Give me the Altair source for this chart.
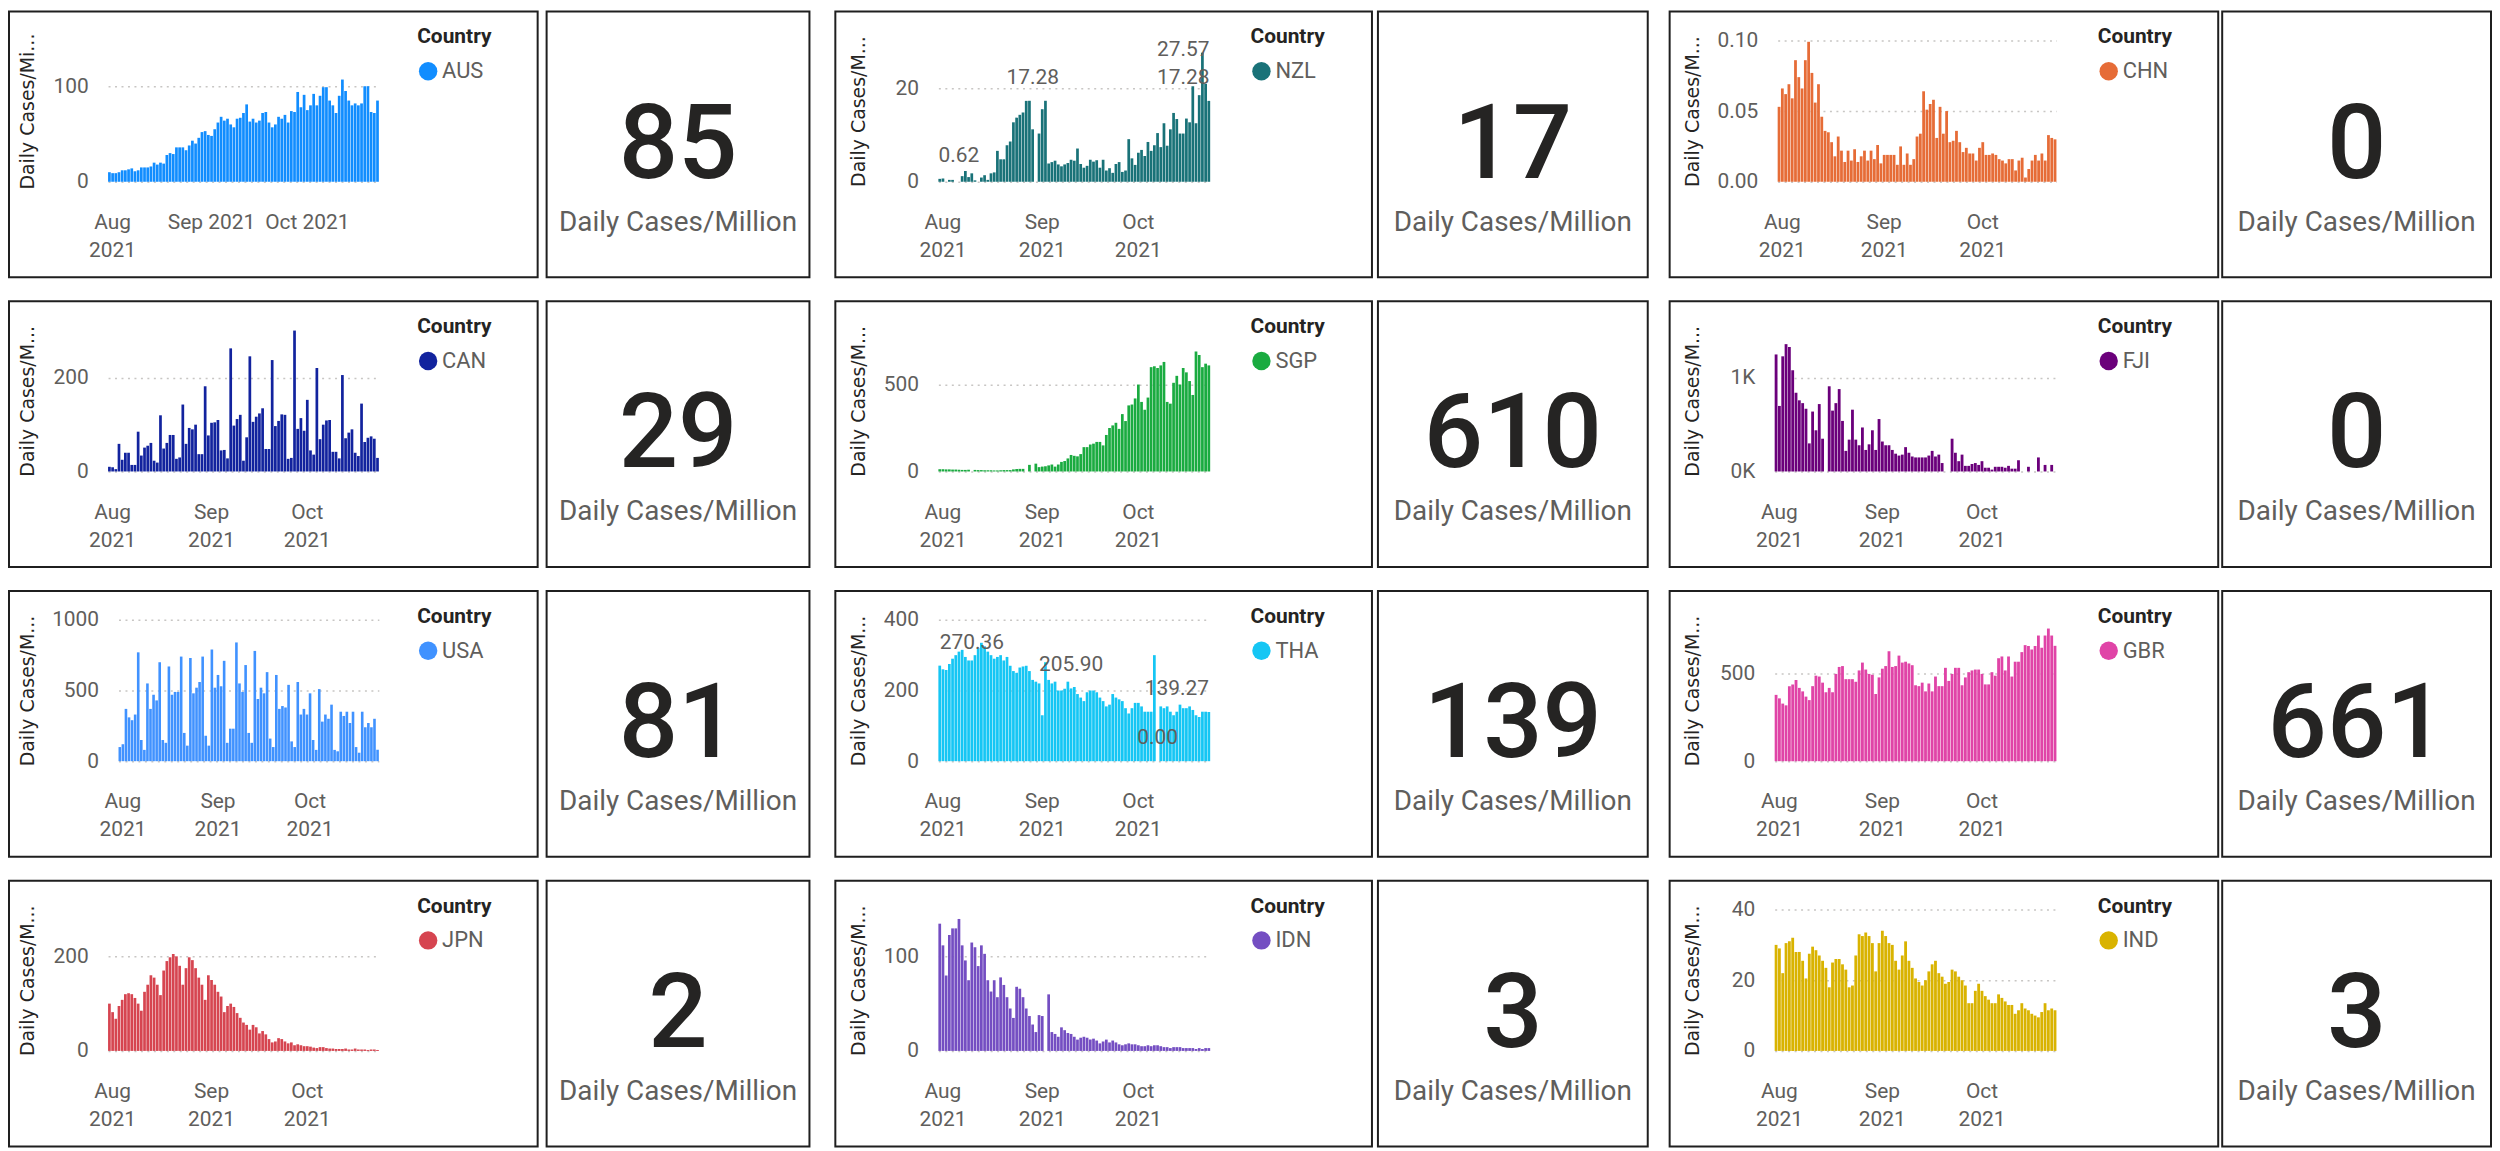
import altair as alt
import pandas as pd

N = None
dates = [d.strftime("%Y-%m-%d") for d in pd.date_range("2021-07-31", periods=85, freq="D")]
month_ticks = ["2021-08-01", "2021-09-01", "2021-10-01"]

countries = ["AUS", "NZL", "CHN", "CAN", "SGP", "FJI", "USA", "THA", "GBR", "JPN", "IDN", "IND"]
colors = ["#118DFF", "#197278", "#E66C37", "#12239E", "#1AAB40", "#6B007B",
          "#4092FF", "#15C6F4", "#E044A7", "#D64550", "#744EC2", "#D9B300"]
card_values = [85, 17, 0, 29, 610, 0, 81, 139, 661, 2, 3, 3]

aus = [10, 9, 9, 10, 12, 12, 13, 14, 11, 12,
       15, 15, 15, 16, 20, 18, 20, 19, 28, 30,
       29, 36, 36, 36, 33, 38, 43, 40, 46, 52,
       53, 49, 48, 55, 62, 68, 64, 66, 60, 57,
       66, 67, 72, 81, 63, 66, 62, 64, 72, 73,
       62, 57, 60, 68, 66, 70, 62, 74, 73, 94,
       78, 91, 75, 80, 92, 80, 90, 99, 99, 85,
       80, 72, 90, 107, 95, 85, 80, 82, 80, 82,
       100, 100, 73, 72, 85]
nzl = [0.62, 0.7, N, 0.4, 0.4, N, N, 1.2, 2.3, 1.0,
       1.8, 0.3, N, 0.9, 1.4, 0.4, 1.8, 2.0, 6.6, 4.8,
       4.8, 7.8, 8.6, 12.7, 13.7, 14.3, 14.8, 17.28, 17.3, 11.2,
       N, 10.3, 15.5, 17.3, 3.9, 4.2, 4.5, 3.7, 3.3, 3.7,
       4.0, 4.7, 4.5, 7.1, 3.8, 3.0, 3.4, 4.7, 4.3, 4.6,
       3.0, 4.7, 2.4, 2.9, 1.9, 3.8, 4.2, 2.1, 2.4, 9.1,
       5.0, 3.6, 6.2, 6.8, 5.5, 8.5, 6.6, 7.8, 10.4, 7.4,
       12.5, 7.7, 11.2, 14.7, 13.4, 10.3, 10.3, 13.5, 12.7, 20.4,
       12.5, 18.5, 27.57, 20.9, 17.28]
chn = [0.053, 0.066, 0.062, 0.069, 0.059, 0.086, 0.074, 0.066, 0.086, 0.099,
       0.077, 0.056, 0.069, 0.046, 0.036, 0.035, 0.028, 0.018, 0.032, 0.022,
       0.014, 0.022, 0.015, 0.023, 0.014, 0.018, 0.022, 0.015, 0.022, 0.016,
       0.026, 0.013, 0.019, 0.019, 0.019, 0.019, 0.012, 0.025, 0.012, 0.020,
       0.012, 0.016, 0.032, 0.034, 0.064, 0.051, 0.055, 0.058, 0.031, 0.053,
       0.034, 0.050, 0.028, 0.029, 0.036, 0.028, 0.021, 0.024, 0.020, 0.020,
       0.015, 0.024, 0.028, 0.019, 0.019, 0.020, 0.019, 0.016, 0.015, 0.013,
       0.016, 0.016, 0.008, 0.015, 0.017, 0.003, 0.009, 0.015, 0.019, 0.015,
       0.020, 0.015, 0.033, 0.031, 0.030]
can = [10, 9, 5, 59, 25, 40, 40, 14, 14, 85,
       34, 51, 55, 61, 23, 19, 120, 49, 61, 78,
       78, 27, 30, 143, 59, 93, 90, 100, 37, 37,
       182, 77, 104, 105, 110, 45, 46, 28, 263, 98,
       112, 121, 23, 73, 246, 106, 117, 124, 135, 48,
       48, 238, 97, 108, 122, 121, 27, 29, 301, 91,
       114, 87, 153, 45, 36, 221, 69, 100, 109, 110,
       42, 42, 28, 206, 71, 83, 90, 40, 33, 145,
       63, 72, 75, 70, 29]
sgp = [13, 13, 12, 12, 11, 11, 10, 9, 9, 10,
       N, 9, 8, 8, 7, 7, 7, 6, 6, 7,
       8, 8, 8, 12, 14, 15, 15, N, 38, N,
       45, 25, 28, 30, 35, 40, 28, 40, 55, 60,
       75, 95, 90, 87, 100, 140, 140, 155, 160, 170,
       170, 150, 210, 250, 265, 280, 245, 330, 290, 380,
       385, 420, 500, 400, 355, 425, 600, 605, 595, 610,
       630, 400, 390, 510, 550, 500, 595, 570, 520, 440,
       690, 670, 600, 620, 610]
fji = [1250, 700, 1230, 1360, 1330, 1080, 840, 760, 730, 670,
       300, 640, 440, 720, 350, N, 910, 650, 730, 880,
       540, 220, 340, 660, 340, 280, 470, 230, 290, 440,
       230, 560, 320, 280, 280, 230, 190, 170, 180, 260,
       200, 160, 150, 150, 150, 150, 170, 220, 160, 180,
       90, N, N, 350, 200, 110, 180, 60, 60, 80,
       90, 70, 110, 40, 40, 20, 50, 50, 50, 40,
       60, 30, 30, 120, N, N, 50, N, N, 150,
       N, 70, N, 70, N]
usa = [100, 120, 370, 310, 290, 330, 770, 150, 80, 550,
       370, 470, 430, 700, 150, 130, 670, 470, 490, 490,
       740, 200, 110, 730, 480, 520, 560, 740, 180, 110,
       790, 520, 610, 530, 710, 130, 230, 230, 840, 550,
       490, 680, 200, 130, 780, 440, 520, 480, 630, 160,
       100, 610, 370, 390, 380, 540, 140, 100, 560, 330,
       370, 330, 480, 150, 80, 510, 280, 330, 300, 400,
       80, 70, 350, 320, 350, 270, 350, 100, 60, 350,
       240, 270, 240, 300, 81]
tha = [270.36, 260, 258, 275, 290, 300, 310, 315, 295, 285,
       285, 300, 320, 335, 325, 310, 300, 290, 295, 300,
       285, 295, 270, 255, 250, 265, 268, 270, 255, 230,
       225, 220, 130, 280, 230, 220, 225, 200, 200, 205,
       225, 205.90, 210, 190, 180, 170, 195, 200, 200, 195,
       180, 170, 155, 160, 190, 180, 175, 170, 150, 135,
       150, 165, 165, 155, 140, 140, 140, 300, 0.0, 155,
       150, 155, 140, 130, 140, 160, 150, 150, 155, 145,
       130, 125, 140, 140, 139.27]
gbr = [380, 360, 330, 320, 430, 440, 465, 420, 400, 370,
       350, 430, 490, 485, 450, 395, 420, 395, 500, 540,
       545, 470, 470, 470, 455, 520, 565, 525, 500, 495,
       385, 480, 530, 545, 630, 540, 545, 605, 565, 570,
       560, 550, 435, 430, 450, 400, 445, 400, 485, 430,
       430, 535, 460, 500, 535, 535, 435, 480, 510, 520,
       525, 525, 500, 440, 440, 510, 490, 590, 600, 520,
       600, 485, 570, 570, 625, 665, 660, 640, 660, 720,
       650, 720, 760, 720, 661]
jpn = [100, 82, 68, 95, 108, 120, 122, 120, 112, 100,
       85, 125, 140, 160, 155, 140, 118, 170, 190, 198,
       205, 200, 180, 140, 175, 198, 192, 175, 155, 140,
       108, 160, 150, 140, 125, 115, 82, 95, 100, 93,
       80, 70, 60, 55, 45, 55, 50, 37, 42, 35,
       25, 18, 20, 27, 25, 20, 16, 18, 12, 14,
       12, 10, 10, 9, 7, 6, 8, 8, 6, 5,
       5, 4, 4, 4, 5, 3, 3, 5, 3, 3,
       3, 2, 3, 3, 2]
idn = [135, 112, 80, 123, 130, 130, 140, 112, 96, 75,
       115, 110, 90, 112, 103, 75, 63, 75, 57, 78,
       70, 57, 45, 35, 68, 66, 57, 45, 37, 28,
       20, 38, 37, N, 60, 20, 18, 15, 25, 22,
       19, 18, 15, 12, 14, 15, 14, 12, 13, 11,
       8, 10, 12, 9, 11, 9, 7, 6, 7, 8,
       7, 7, 6, 5, 5, 6, 5, 6, 6, 5,
       4, 4, 3, 4, 4, 4, 3, 3, 3, 3,
       2, 3, 2, 3, 3]
ind = [30, 29, 22, 30.5, 31, 32, 28, 28, 25.5, 20.5,
       27.5, 29.5, 28.5, 27, 25.5, 23.5, 18, 25, 26, 26,
       24.5, 23, 18, 18.5, 27, 33, 32.5, 33.5, 32.5, 30.5,
       22.5, 30.5, 34, 32.5, 30.5, 30, 25.5, 23, 27, 31,
       25.5, 23.5, 20.5, 19.5, 18.5, 20, 22.5, 24.5, 25.5, 22,
       21, 19, 19.5, 23, 22.5, 21, 20, 18.5, 13.5, 13.5,
       17, 19, 17, 15.5, 14.5, 13.5, 13.5, 16, 15, 14,
       13, 13, 10.5, 11.5, 13.5, 12, 11.5, 10.5, 10, 9.5,
       11, 13.5, 11.5, 12, 11.5]

series = [aus, nzl, chn, can, sgp, fji, usa, tha, gbr, jpn, idn, ind]
y_max = [148, 30.2, 0.1, 302, 813, 1510, 1000, 400, 810, 299, 150, 40]
y_ticks = [[0, 100], [0, 20], [0, 0.05, 0.1], [0, 200], [0, 500], [0, 1000],
           [0, 500, 1000], [0, 200, 400], [0, 500], [0, 200], [0, 100], [0, 20, 40]]

nzl_label_values = [0.62, 17.28, 27.57, 17.28]
nzl_label_pos = ["2021-08-06", "2021-08-29", "2021-10-15", "2021-10-15"]
tha_label_values = [270.36, 205.90, 0.00, 139.27]
tha_label_pos = ["2021-08-10", "2021-09-10", "2021-10-07", "2021-10-13"]

H = 267
YB, YT = 171, 29
COLW = [531, 539, 551]
CARDW = [264, 271, 270]
LEGX = [410, 417, 430]
TITLEX = [19, 23, 23]
PLOTX = [(99.5, 371.5), (103.5, 376.5), (105.5, 388.5)]


def indep(ch):
    return ch.resolve_scale(x="independent", y="independent", color="independent") \
             .resolve_legend(color="independent")


def panel(i):
    code, vals, color, D, ticks = countries[i], series[i], colors[i], y_max[i], y_ticks[i]
    col = i % 3
    width = COLW[col]
    x0, x1 = PLOTX[col]
    if code == "USA":
        x0 = 110
    if code == "CHN":
        x0 = 108.5
    df = pd.DataFrame({"d": dates, "v": vals})
    df["Country"] = code
    xs = alt.Scale(domain=dates, range=[x0, x1], paddingInner=0.15, paddingOuter=0)
    ys = alt.Scale(domain=[0, D], range=[YB, YT], nice=False, zero=True)
    if code == "AUS":
        lx = ("datum.value == '2021-08-01' ? ['Aug', '2021'] : "
              "(datum.value == '2021-09-01' ? 'Sep 2021' : 'Oct 2021')")
        title = "Daily Cases/Mi..."
    else:
        lx = ("datum.value == '2021-08-01' ? ['Aug', '2021'] : "
              "(datum.value == '2021-09-01' ? ['Sep', '2021'] : ['Oct', '2021'])")
        title = "Daily Cases/M..."
    ax_x = x0 - 20
    xaxis = alt.Axis(values=month_ticks, labelExpr=lx, title=None, offset=-(H - YB),
                     labelPadding=30, labelAngle=0, grid=False, ticks=False, tickSize=0,
                     domain=False, labelLineHeight=28, labelOverlap=False, labelBaseline="top")
    ykw = dict(values=ticks, title=title, offset=-ax_x, labelPadding=0, grid=True,
               ticks=False, tickSize=0, domain=False, titleX=TITLEX[col] - ax_x,
               titleY=(YB + YT) / 2, titleBaseline="middle", titleAlign="center",
               labelAlign="right", labelBaseline="middle", labelOverlap=False)
    if code == "CHN":
        ykw["format"] = ".2f"
    elif code == "FJI":
        ykw["labelExpr"] = "(datum.value / 1000) + 'K'"
    else:
        ykw["format"] = "d"
    bars = alt.Chart(df).mark_bar(color=color).encode(
        x=alt.X("d:O", scale=xs, axis=xaxis),
        y=alt.Y("v:Q", scale=ys, axis=alt.Axis(**ykw)),
        color=alt.Color("Country:N", scale=alt.Scale(domain=[code], range=[color]),
                        legend=alt.Legend(orient="none", legendX=LEGX[col], legendY=15,
                                          title="Country")),
    )
    layers = [bars]
    lab = None
    if code == "NZL":
        lab = (nzl_label_pos, nzl_label_values)
    elif code == "THA":
        lab = (tha_label_pos, tha_label_values)
    if lab is not None:
        ldf = pd.DataFrame({"d": lab[0], "v": lab[1]})
        off = 23 * D / (YB - YT)
        cap = D * (YB - 39) / (YB - YT)
        txt = alt.Chart(ldf).transform_calculate(
            ly=f"min(datum.v + {off}, {cap})"
        ).mark_text(font="Roboto", fontSize=21, color="#605E5C", baseline="middle",
                    align="center").encode(
            x=alt.X("d:O", scale=xs, axis=xaxis),
            y=alt.Y("ly:Q", scale=ys, axis=alt.Axis(**ykw)),
            text=alt.Text("v:Q", format=".2f"),
        )
        layers.append(txt)
    return alt.layer(*layers).properties(width=width, height=H)


def card(i):
    width = CARDW[i % 3]
    df = pd.DataFrame({"v": [card_values[i]]})
    num = alt.Chart(df).mark_text(font="Roboto", fontSize=105, fontWeight=500, color="#252423",
                                  align="center", baseline="alphabetic").encode(
        x=alt.value(width / 2), y=alt.value(167), text=alt.Text("v:Q", format="d"))
    sub = alt.Chart(df).mark_text(font="Roboto", fontSize=28, color="#605E5C",
                                  align="center", baseline="alphabetic",
                                  text="Daily Cases/Million").encode(
        x=alt.value(width / 2), y=alt.value(220))
    return alt.layer(num, sub).properties(width=width, height=H)


rows = []
gaps = [9, 6, 4]
for r in range(4):
    p = []
    for c in range(3):
        i = r * 3 + c
        p.append(indep(alt.hconcat(panel(i), card(i), spacing=gaps[c], bounds="flush")))
    row = indep(alt.hconcat(indep(alt.hconcat(p[0], p[1], spacing=24)), p[2], spacing=20))
    rows.append(row)

chart = indep(alt.vconcat(*rows, spacing=22)).properties(
    padding=0, background="white"
).configure_view(
    stroke="#1F1F1F", strokeWidth=2
).configure_axis(
    labelFont="Roboto", labelFontSize=21, labelColor="#605E5C",
    titleFont="DejaVu Sans", titleFontSize=19, titleFontWeight="normal",
    titleColor="#252423", titleLimit=1000,
    gridColor="#C8C6C4", gridDash=[2, 4.5], gridWidth=1.5,
).configure_legend(
    titleFont="Roboto", titleFontSize=21, titleFontWeight="bold", titleColor="#252423",
    labelFont="Roboto", labelFontSize=22, labelColor="#605E5C",
    symbolType="circle", symbolSize=342, symbolStrokeWidth=0, symbolOpacity=1,
    padding=0, titlePadding=13, labelOffset=3,
)

chart.save("out.html", embed_options={"renderer": "svg", "actions": False})
